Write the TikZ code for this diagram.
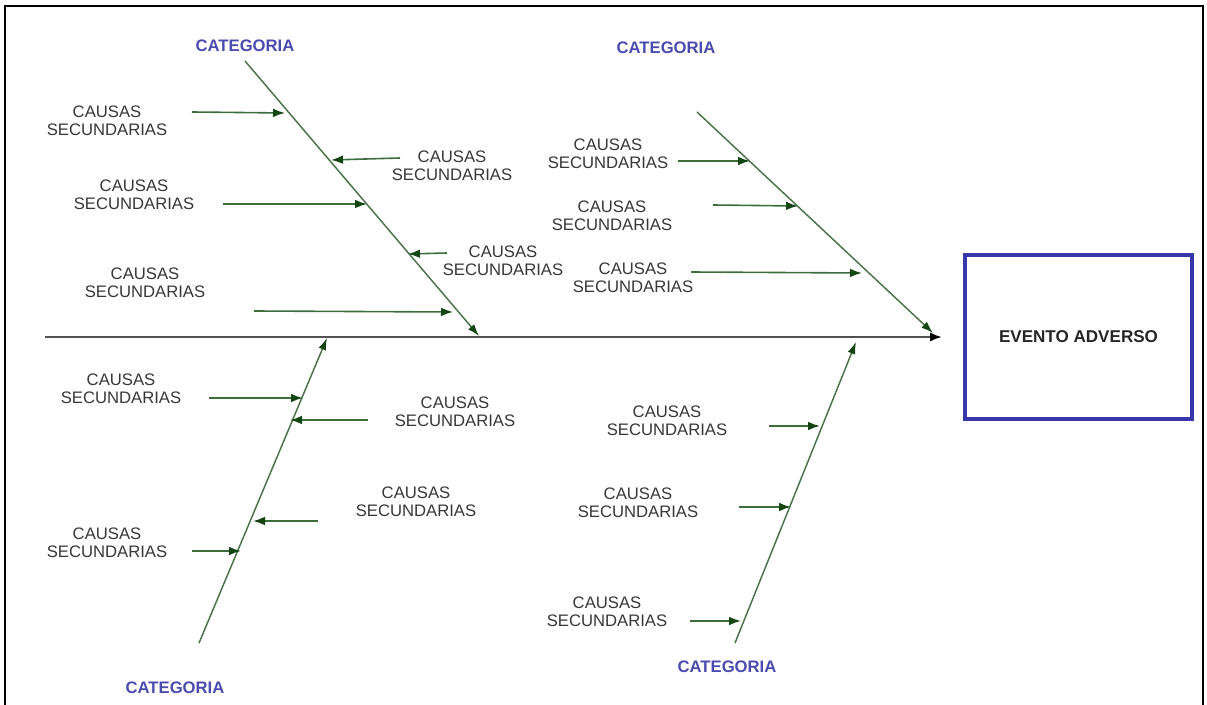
\documentclass[tikz,border=0pt]{standalone}
\usepackage{fontspec}
\setmainfont{Liberation Sans}
\usetikzlibrary{arrows.meta}
\definecolor{bonecol}{RGB}{75,115,75}
\definecolor{catcol}{RGB}{75,75,175}
\definecolor{arrcol}{RGB}{20,70,20}
\definecolor{shaftcol}{RGB}{60,110,60}
\definecolor{boxcol}{RGB}{55,55,170}
\definecolor{txtcol}{RGB}{55,55,55}
\tikzset{
  causa/.style={align=center, font=\fontsize{12.5}{13.5}\selectfont, text=txtcol, inner sep=0pt},
  categ/.style={font=\bfseries\fontsize{12.5}{14}\selectfont, text=catcol, inner sep=0pt},
  bonel/.style={draw=bonecol, line width=1.1pt, -{Latex[length=9pt,width=6pt,color=arrcol]}},
  subarr/.style={draw=shaftcol, line width=1.2pt, -{Latex[length=9pt,width=6.5pt,color=arrcol]}},
  spinel/.style={draw=black!68, line width=1.7pt, -{Latex[length=9pt,width=7pt,color=black]}},
}
\begin{document}
\begin{tikzpicture}[x=0.75pt,y=-0.75pt]
\useasboundingbox (0,0) rectangle (1207,705);
% frame
\draw[line width=1.6pt] (5,705) -- (5,6) -- (1203,6) -- (1203,705);

% effect box
\node[draw=boxcol, line width=3pt, minimum width=170pt, minimum height=123pt,
      font=\bfseries\fontsize{12.8}{14}\selectfont, text=black!85] (evento) at (1078.5,337) {EVENTO ADVERSO};

% spine
\coordinate (sp0) at (45,337);
\coordinate (sp1) at (942,337);
\draw[spinel] (sp0) -- (sp1);

% bones
\coordinate (tl0) at (245,61);  \coordinate (tl1) at (479,336);
\coordinate (tr0) at (697,112); \coordinate (tr1) at (933,333);
\coordinate (bl0) at (199,643); \coordinate (bl1) at (327,338);
\coordinate (br0) at (735,643); \coordinate (br1) at (856,342);
\draw[bonel] (tl0) -- (tl1);
\draw[bonel] (tr0) -- (tr1);
\draw[bonel] (bl0) -- (bl1);
\draw[bonel] (br0) -- (br1);

% category labels
\node[categ] (ctl) at (245,46) {CATEGORIA};
\node[categ] (ctr) at (666,48) {CATEGORIA};
\node[categ] (cbl) at (175,688) {CATEGORIA};
\node[categ] (cbr) at (727,667) {CATEGORIA};

% top-left causes
\node[causa] (ta1) at (107,121) {CAUSAS\\SECUNDARIAS};
\node[causa] (ta2) at (452,166) {CAUSAS\\SECUNDARIAS};
\node[causa] (ta3) at (134,195) {CAUSAS\\SECUNDARIAS};
\node[causa] (ta4) at (503,261) {CAUSAS\\SECUNDARIAS};
\node[causa] (ta5) at (145,283) {CAUSAS\\SECUNDARIAS};
\coordinate (ta1s) at (192,112); \coordinate (ta1e) at (285,113);
\coordinate (ta2s) at (400,158); \coordinate (ta2e) at (331,160);
\coordinate (ta3s) at (223,204); \coordinate (ta3e) at (367,204);
\coordinate (ta4s) at (447,253); \coordinate (ta4e) at (408,254);
\coordinate (ta5s) at (254,311); \coordinate (ta5e) at (453,312);
\foreach \i in {1,...,5} \draw[subarr] (ta\i s) -- (ta\i e);

% top-right causes
\node[causa] (tb1) at (608,154) {CAUSAS\\SECUNDARIAS};
\node[causa] (tb2) at (612,216) {CAUSAS\\SECUNDARIAS};
\node[causa] (tb3) at (633,278) {CAUSAS\\SECUNDARIAS};
\coordinate (tb1s) at (678,161); \coordinate (tb1e) at (750,161);
\coordinate (tb2s) at (713,205); \coordinate (tb2e) at (798,206);
\coordinate (tb3s) at (691,272); \coordinate (tb3e) at (862,273);
\foreach \i in {1,...,3} \draw[subarr] (tb\i s) -- (tb\i e);

% bottom-left causes
\node[causa] (ba1) at (121,389) {CAUSAS\\SECUNDARIAS};
\node[causa] (ba2) at (455,412) {CAUSAS\\SECUNDARIAS};
\node[causa] (ba3) at (416,502) {CAUSAS\\SECUNDARIAS};
\node[causa] (ba4) at (107,543) {CAUSAS\\SECUNDARIAS};
\coordinate (ba1s) at (209,398); \coordinate (ba1e) at (303,398);
\coordinate (ba2s) at (368,420); \coordinate (ba2e) at (290,420);
\coordinate (ba3s) at (318,521); \coordinate (ba3e) at (253,521);
\coordinate (ba4s) at (192,551); \coordinate (ba4e) at (241,551);
\foreach \i in {1,...,4} \draw[subarr] (ba\i s) -- (ba\i e);

% bottom-right causes
\node[causa] (bb1) at (667,421) {CAUSAS\\SECUNDARIAS};
\node[causa] (bb2) at (638,503) {CAUSAS\\SECUNDARIAS};
\node[causa] (bb3) at (607,612) {CAUSAS\\SECUNDARIAS};
\coordinate (bb1s) at (769,426); \coordinate (bb1e) at (820,426);
\coordinate (bb2s) at (739,507); \coordinate (bb2e) at (791,507);
\coordinate (bb3s) at (690,621); \coordinate (bb3e) at (741,621);
\foreach \i in {1,...,3} \draw[subarr] (bb\i s) -- (bb\i e);
\end{tikzpicture}
\end{document}
